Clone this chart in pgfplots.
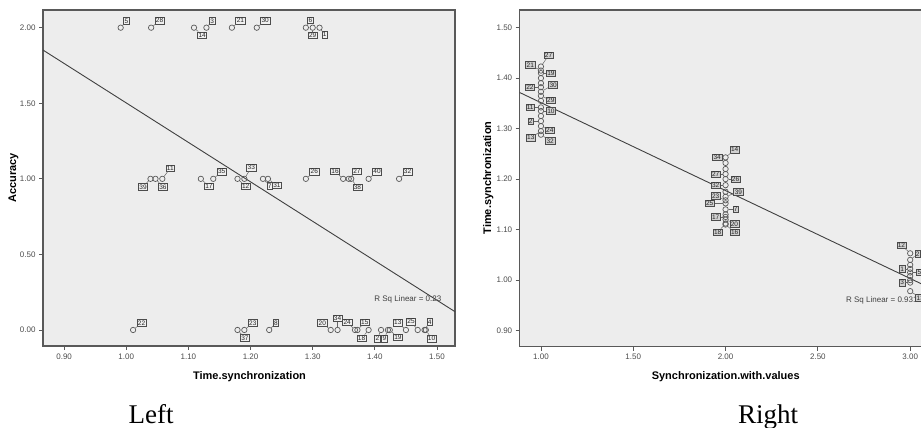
\documentclass[border=0pt]{standalone}
\usepackage{pgfplots}
\pgfplotsset{compat=1.18}
\usepackage{pgfplotstable}
\usepackage{fontspec}
\setmainfont{Liberation Sans}
\newfontfamily\capfont{Liberation Serif}

% left panel: Time.synchronization vs Accuracy (lab = case id, ang/d = label placement)
\pgfplotstableread{
x     y    lab ang  d
0.991 2.00 5   50   1
1.040 2.00 28  45   2
1.109 2.00 14  -50  2
1.129 2.00 3   50   1
1.170 2.00 21  45   2
1.210 2.00 30  45   2
1.289 2.00 6   70   1
1.300 2.00 29  -90  1
1.311 2.00 1   -60  1
1.039 1.00 39  -120 2
1.047 1.00 36  -60  2
1.058 1.00 11  65   5
1.120 1.00 17  -50  2
1.140 1.00 35  45   2
1.179 1.00 12  -50  2
1.190 1.00 33  75   5
1.220 1.00 7   -45  2
1.228 1.00 31  -35  2
1.289 1.00 26  45   2
1.349 1.00 16  130  2
1.358 1.00 27  50   2
1.362 1.00 38  -75  2
1.390 1.00 40  45   2
1.439 1.00 32  45   2
1.011 0.00 22  45   2
1.179 0.00 37  -60  2
1.190 0.00 23  45   2
1.230 0.00 8   45   2
1.329 0.00 20  135  2
1.340 0.00 34  90   5
1.368 0.00 24  125  2
1.372 0.00 15  60   2
1.390 0.00 18  -115 2
1.410 0.00 2   -95  2
1.421 0.00 9   -95  2
1.424 0.00 19  -50  2
1.450 0.00 13  130  2
1.469 0.00 25  110  2
1.480 0.00 4   65   2
1.482 0.00 10  -80  2
}\leftpts

% right panel: Synchronization.with.values vs Time.synchronization
\pgfplotstableread{
x y     lab ang  d
1 1.423 27  70   5
1 1.415 21  160  3
1 1.410 19  0    2
1 1.382 22  180  3
1 1.373 30  25   5
1 1.365 29  -10  2
1 1.342 11  180  3
1 1.335 10  0    2
1 1.315 2   180  4
1 1.305 24  -10  1
1 1.295 13  -150 3
1 1.288 32  -30  2
2 1.243 14  45   3
2 1.232 34  150  1
2 1.210 27  180  2
2 1.200 26  0    2
2 1.188 32  180  2
2 1.165 39  10   5
2 1.158 23  170  2
2 1.152 25  180  8
2 1.140 7   0    4
2 1.125 17  180  2
2 1.120 20  -10  1
2 1.112 18  -120 3
2 1.110 16  -45  3
3 1.053 12  130  3
3 1.040 2   30   2
3 1.022 1   180  2
3 1.015 5   0    3
3 0.995 3   180  2
3 0.978 13  -30  3
}\rightpts

\pgfplotstableread{
x y
1 1.400
1 1.390
1 1.355
1 1.325
2 1.220
2 1.175
2 1.130
3 1.030
3 1.008
3 1.000
}\rightplain

\tikzset{
  lbl/.style={draw=black!70, fill=black!6, text=black!85, inner sep=1pt,
    line width=0.55pt, font=\fontsize{6.5}{7}\selectfont},
  lbldark/.style={lbl, fill=black!18},
  every pin edge/.style={black!60, line width=0.5pt},
}

\pgfplotsset{
  spss/.style={
    scale only axis, anchor=south west,
    axis line style={black!65, line width=1.1pt},
    tick align=outside, tick pos=left,
    major tick length=4pt,
    tick style={black!65, line width=0.8pt},
    scaled ticks=false,
    tick label style={font=\fontsize{8}{9}\selectfont, text=black!70,
      /pgf/number format/assume math mode=true,
      /pgf/number format/fixed, /pgf/number format/fixed zerofill,
      /pgf/number format/precision=2},
    clip=false,
  },
  ptmarks/.style={only marks, mark=o, mark size=2.7pt, black!65,
    mark options={line width=0.7pt}},
  labelled/.style={ptmarks,
    point meta=explicit symbolic, nodes near coords={},
    visualization depends on={\thisrow{ang}\as\pang},
    visualization depends on={\thisrow{d}\as\pdist},
    every node near coord/.style={circle, minimum size=5.4pt, inner sep=0pt,
      anchor=center,
      pin/.expanded={[#1, pin distance=\pdist pt]\pang:\pgfplotspointmeta}}},
}

\begin{document}
\begin{tikzpicture}
\useasboundingbox (0,0) rectangle (921pt,428pt);

% ---------------- left panel ----------------
\begin{axis}[spss,
  at={(43pt,82pt)}, width=412pt, height=336pt,
  axis background/.style={fill=black!7},
  xmin=0.866, xmax=1.529, ymin=-0.106, ymax=2.117,
  xtick={0.9,1.0,1.1,1.2,1.3,1.4,1.5},
  ytick={0,0.5,1,1.5,2},
]
\addplot[black!75, line width=0.9pt] coordinates {(0.866,1.852) (1.529,0.121)};
\addplot[labelled=lbl] table[x=x, y=y, meta=lab]{\leftpts};
\node[anchor=west, font=\fontsize{8}{9}\selectfont, text=black!75]
  at (axis cs:1.3935,0.204) {R Sq Linear = 0.23};
\end{axis}
\node[font=\bfseries\fontsize{11}{12}\selectfont] at (249.5pt,51.3pt) {Time.synchronization};
\node[rotate=90, font=\bfseries\fontsize{11}{12}\selectfont] at (13.5pt,250pt) {Accuracy};

% ---------------- right panel ----------------
\begin{axis}[spss,
  at={(519.7pt,81.3pt)}, width=412pt, height=336.7pt,
  axis background/.style={fill=black!7},
  xmin=0.885, xmax=3.1165, ymin=0.868, ymax=1.535,
  xtick={1,1.5,2,2.5,3},
  ytick={0.9,1.0,1.1,1.2,1.3,1.4,1.5},
]
\addplot[black!75, line width=0.9pt] coordinates {(0.885,1.3715) (3.1165,0.9828)};
\addplot[ptmarks] table[x=x, y=y]{\rightplain};
\addplot[labelled=lbldark] table[x=x, y=y, meta=lab]{\rightpts};
\node[anchor=west, font=\fontsize{8}{9}\selectfont, text=black!75]
  at (axis cs:2.634,0.960) {R Sq Linear = 0.931};
\end{axis}
\node[font=\bfseries\fontsize{11}{12}\selectfont] at (725.7pt,51.3pt) {Synchronization.with.values};
\node[rotate=90, font=\bfseries\fontsize{11}{12}\selectfont] at (488.3pt,250pt) {Time.synchronization};

% panel captions
\node[anchor=base west, font=\capfont\fontsize{27}{30}\selectfont] at (125pt,4pt) {Left};
\node[anchor=base, font=\capfont\fontsize{27}{30}\selectfont] at (768pt,4pt) {Right};
\end{tikzpicture}
\end{document}
